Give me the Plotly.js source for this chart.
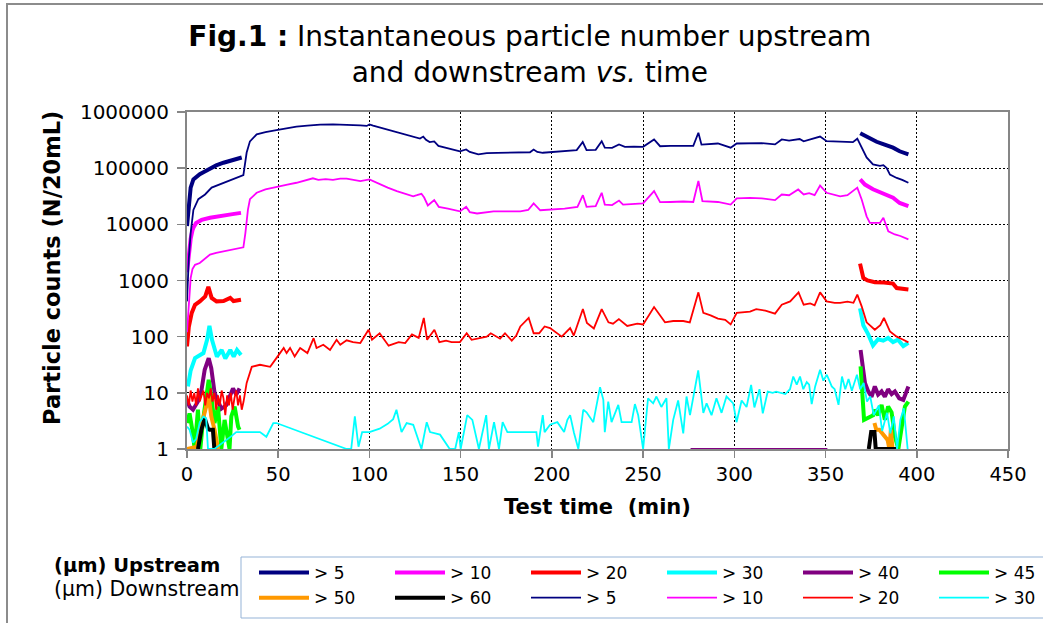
<!DOCTYPE html>
<html><head><meta charset="utf-8">
<script src="https://cdn.plot.ly/plotly-3.0.1.min.js"></script>
<style>html,body{margin:0;padding:0;background:#fff}#chart{width:1043px;height:623px}</style>
</head><body><div id="chart"></div>
<script>
// ---- axis ticks ----
const xTickVals = [0,50,100,150,200,250,300,350,400,450];
const yTickVals = [1,10,100,1000,10000,100000,1000000];
const yTickText = ['1','10','100','1000','10000','100000','1000000'];

// ---- legend labels ----
const upNames = ['> 5','> 10','> 20','> 30','> 40','> 45','> 50','> 60'];
const dnNames = ['> 5','> 10','> 20','> 30'];

// ---- Upstream (thick), two measurement periods separated by null ----
const upT5  = [0,1,2,3.5,5,7,10,13,16,20,25,30,null,369,372,375,378,382,385,387,390.6,393,395.4];
const up5   = [9300,22000,45000,63000,70000,78000,88000,100000,112000,125000,140000,155000,null,420000,370000,320000,295000,265000,250000,232000,200000,188000,176000];
const upT10 = [0,1,2,3,3.5,5,8,12.6,16,20,25,29.6,null,369,371.6,376,381.7,387,390.6,395.4];
const up10  = [1400,3000,5500,7800,8700,10600,12000,13100,13800,14400,15200,16000,null,63000,51000,42000,35500,29700,24000,21000];
const upT20 = [0,1,2.6,4.4,7,10,11.7,13.5,16.2,20,23.7,25.5,29.6,null,368.9,370.7,373,377,382,385,387,389,392,395.4];
const up20  = [67,150,265,370,425,520,770,490,425,430,490,430,455,null,2000,1110,1000,930,920,900,880,735,700,690];
const upT30 = [0.5,2,4.4,7,9,11,12.3,13.7,16.4,19,21,23.7,25.6,27.4,29.6,null,368.9,370.7,373.4,376,378.8,381.6,384.3,387,389.7,392.6,395.4];
const up30  = [13,25,41.5,47,51,88,156,88,44,58,41,58,44,58,47,null,320,160,110,70,90,85,95,80,88,68,78];
const upT40 = [0,1.4,3.3,6,7.9,9.7,11.9,13.3,15.1,17,18.8,21.5,23.3,25.2,27,28.8,null,369.2,370.3,371.6,373.4,375.2,377,378.8,380.7,382.5,384.3,386.2,388,390.4,392.6,395.4];
const up40  = [7.5,5.7,5,7,11,25.7,41.5,27.5,10,7,5.2,6,8.6,12,9.3,12,null,58,34,15,10.6,8.5,13,9.3,10.6,8.5,11.6,9.5,10.6,8,7.5,13];
const upT45 = [0,1.4,2.9,4.2,6,7.3,8.8,10.6,11.9,13.3,15.1,17,18.8,20.6,22.5,23.3,24.3,26.1,28,28.8,null,369.2,370.3,371.1,373.4,376.2,377,378.8,380.7,382.5,384.3,386.2,388,389.9,391.7,393.5,395.4];
const up45  = [2.9,4.3,2.2,1,5,1,3.3,8.6,17,8.6,2.9,5.7,1,3.3,1.5,1,3.8,5.7,2.5,2.2,null,29.5,7.5,3.3,3.6,4,5,4,6.1,3.3,5.7,4.5,1.66,1,2.4,5.7,7];
const upT50 = [0,5.4,8.2,10.6,11.9,13.3,15.1,17,18,null,376.8,377.8,379.5,381.3,383,384,385,385.8,386.7];
const up50  = [1,1.1,2.9,5.7,8.6,3.8,2.2,1,1,null,2.9,2.2,2.2,1.9,1.6,1.45,1,2.2,1];
const upT60 = [6,7.9,9.7,11.5,12.4,14.2,15,null,373.7,375,376.8,377.5,388.6];
const up60  = [1,2.2,3.5,2.3,2.2,2.2,1,null,1,2,2,1,1];

// ---- Downstream (thin), continuous ----
const dnT5 = [0,1,2,3.5,6.2,9.9,13.5,17,20,25,29,30.9,32.7,34.5,38.2,43,49,55,60,66,73,80,87.5,95,98.5,100,102,109.5,115,120.4,125,127.7,129.5,131,133,135.5,137.8,143,149.6,153,155,159.7,164.3,170,176,182.7,188,190,192,195,201,207,213.6,216.9,219,224,227.3,229,233,236.8,240,245,250,256,259.3,265,272,277.5,280.3,282,291,298,301.3,308.6,315,322.3,326,330,335.8,338,341,347,350.6,358,365,367.4,369.8,372.5,376,379.8,381.7,383.5,385.3,389,392,395.4];
const dn5  = [425,2500,7000,18000,28000,34000,45000,50000,55000,63000,72000,75000,190000,300000,400000,440000,475000,515000,550000,570000,595000,600000,595000,580000,565000,600000,570000,490000,440000,400000,355000,337000,365000,320000,292000,300000,250000,225000,200000,215000,195000,176000,185000,187000,187000,188000,192000,215000,195000,188000,193000,198000,210000,292000,210000,212000,302000,232000,230000,265000,240000,242000,240000,325000,246000,250000,252000,250000,427000,262000,275000,232000,275000,278000,280000,265000,325000,310000,330000,300000,320000,365000,302000,292000,290000,335000,232000,155000,117000,110000,113000,100000,77000,67000,62000,55000];
const dnT10 = [0,1,2,3,4.4,7,10,12.6,16,20,25,29,30.9,32,33.4,34.5,38.2,43,49,55,60,65,69,72,76,80,84,87.5,91,95,100,105.8,110,115,120,124,126,128.5,130,132,135.5,138,143,149.6,153,155,159,164,168,175,182.7,187,190,193.6,201,207,214,217,219,224,227.3,229,233,236.8,239,245,250,256,259.3,265,272,277.5,280.3,282.5,287,291,298,301.3,308.6,315,322.3,326,330,335,338,341,344,347,350.6,355,358,362,367.4,369.8,372.5,374.3,379.8,381.7,384.4,388,391,395.4];
const dn10  = [120,400,1100,1600,1900,2050,2500,2900,3100,3300,3500,3800,3900,7000,18300,28000,36500,42000,47000,51000,55000,60000,66000,62000,64000,62000,65000,65000,62000,59000,63000,51000,45000,39000,35000,31600,33000,35000,30000,21700,27000,20500,19000,17000,20500,16500,15600,16500,17000,17000,17000,18000,23600,17800,18500,19000,20500,33000,20500,21000,36500,22500,22000,26500,22500,23000,23600,39000,24800,25000,25500,25000,59000,26000,25500,25000,22500,29000,29500,29000,27000,34000,33000,41700,34000,36000,33000,49000,36500,33000,31600,33000,45000,27700,13900,10600,10600,13100,7500,6600,6200,5400];
const dnT20 = [0,1,2,3,4,5,6,7,8,9,10,11,12,13,14,15,16,17,18,19,20,21,22,23,24,25,26,27,28,29,30,31,32.7,35.5,40,45.6,49,53,54.6,56.5,59,62,66,69.4,71,74.7,78.4,82,84,87.5,91,95,99.5,101.4,105.6,110.5,116,119.6,123.3,127,129.8,131.6,135.6,138.3,142,145,149.6,153.3,156,158.8,164.3,166.5,171.6,174.3,178,180.5,182.7,187.3,190,193,196,199,205.4,210,212,217,219.2,223,227.3,231,233.5,236.7,241.3,246.8,250,256,259.3,262,266.5,272,275.6,280.3,283,287,291,295,298,301.3,308.6,312,317,322.3,326,330.6,335.2,338,341.6,344,347,350.6,355,358,362,365.3,367.4,369.8,372.5,377,380,382,385.3,389,392.6,395.4];
const dn20  = [9,6,11,7,10,6,12,7,9,11,6,10,8,12,7,10,5,9,6,11,8,4,9,6,10,5,8,11,6,9,5,7,15,29,31.6,29,41.5,63,51,63,44.5,63,51,94,63,72,58,88,72,86,80,77,133,88,115,69,80,77,110,95,215,88,133,80,85,80,80,115,88,92,100,115,92,115,85,105,152,215,115,115,152,142,100,142,105,310,175,140,310,180,170,205,155,170,165,337,235,180,190,190,180,615,265,240,210,200,165,265,280,310,290,257,370,425,615,370,390,360,615,425,400,400,420,400,560,347,180,133,160,215,124,100,88,79];
const dnT30 = [0,1.4,3.3,5,7,9,10.5,11.5,15,20,24,27,30,40,43.5,47.3,49,87.5,90,92,94,96,100,105.6,110,113,114.8,117.6,120.4,124,128.5,131.4,133.2,138.7,144,147,149,150,153.6,156.4,160,164,165.5,168.3,171,173,175.6,180,191.5,192.4,195,196,199,203,206.7,208.5,210,212.1,214.5,217.2,219,222.7,226.4,228.2,229,230.9,232.7,236.4,238.2,243.7,245.5,247.3,250,252.7,255.5,257.3,260,262.8,264.1,266.5,269.2,272,273.8,275.7,280.2,283,284.8,287.5,290.2,293,295.7,299.4,301.2,304,306.7,309.2,311,313.8,315.6,318.3,321,322.9,325.7,328,330.5,332.3,334.2,336,337.8,339.7,341,342.4,344.3,347,348.8,350.7,353.4,355,357.1,359,360.8,362.6,364.4,367.2,369,370.9,372.7,374.5,376.4,379.2,381,383.7,385.5,387.4,389.2,391,392.9,395];
const dn30  = [2.5,2.2,1.3,1.5,3,3.8,3.5,1,1,1.3,1.66,2,2,2,1.65,2.9,2.9,1,1,3.8,1.1,2,2,2.3,2.8,3.4,5,2,2.9,2.7,1,3,2,1.8,1,1,2,1,4,3.3,1,4,1,3,1,3,2,2,2,1.1,4,2,2.7,3,2,3.3,4,1.95,1,5,4.5,3,12.6,7.5,2,7,3,6.1,3,3,6.3,4,1,8,6.5,8.6,5.6,8,1,3.3,7.3,1.9,8.6,4,25,4.4,6.5,4,8,4.4,8.6,6.5,3,7.3,5.6,13.8,5.5,11.6,4.3,10.5,10,10.5,10,9.5,11.6,19.5,14,19.5,11.6,15.5,14,6.3,13,25.7,16.5,21,13,11.6,6.1,19.5,11.6,17.6,10.9,21,11.6,15,7,8.6,4,6,2.1,4.4,1.9,3.8,1,3.3,5.3,1];
const dnT40 = [276,351];
const dn40  = [1,1];

// ---- colours ----
const cNavy='#000080', cMag='#FF00FF', cRed='#FF0000', cCyan='#00FFFF', cPur='#800080', cGrn='#00FF00', cOrg='#FF9900', cBlk='#000000';

const FONT = 'DejaVu Sans, Liberation Sans, Arial, sans-serif';
function tr(name, x, y, color, width, show) {
  return {type:'scatter', mode:'lines', name:name, x:x, y:y,
    line:{color:color, width:width}, showlegend: show !== false, connectgaps:false, hoverinfo:'skip'};
}
const TH = 4, TN = 1.8;
const traces = [
  tr(upNames[0], upT5,  up5,  cNavy, TH),
  tr(upNames[1], upT10, up10, cMag,  TH),
  tr(upNames[2], upT20, up20, cRed,  TH),
  tr(upNames[3], upT30, up30, cCyan, TH),
  tr(upNames[4], upT40, up40, cPur,  TH),
  tr(upNames[5], upT45, up45, cGrn,  TH),
  tr(upNames[6], upT50, up50, cOrg,  TH),
  tr(upNames[7], upT60, up60, cBlk,  TH),
  tr(dnNames[0], dnT5,  dn5,  cNavy, TN),
  tr(dnNames[1], dnT10, dn10, cMag,  TN),
  tr(dnNames[2], dnT20, dn20, cRed,  TN),
  tr(dnNames[3], dnT30, dn30, cCyan, TN),
  tr('> 40', dnT40, dn40, cPur, TN, false)
];

// pixel helpers for paper coordinates (plot area 187..1008 x 112..449)
const L=187, R=1008, T=112, B=449;
const px = v => (v - L)/(R - L);
const py = v => (B - v)/(B - T);

const layout = {
  width:1043, height:623,
  margin:{l:L, r:1043-R, t:T, b:623-B, autoexpand:false},
  paper_bgcolor:'#fff', plot_bgcolor:'#fff',
  font:{family:FONT, color:'#000', size:19},
  title:{text:'<b>Fig.1 :</b> Instantaneous particle number upstream<br>and downstream <i>vs.</i> time',
    font:{family:FONT, size:28, color:'#000'}, x:0.508, xref:'container', xanchor:'center',
    y:1-46/623, yref:'container', yanchor:'top'},
  xaxis:{type:'linear', range:[0,450], tickmode:'array', tickvals:xTickVals,
    showgrid:true, gridcolor:'#000', griddash:'2px,2px', gridwidth:1,
    showline:true, linecolor:'#868686', linewidth:2, mirror:true,
    ticks:'outside', ticklen:7, tickcolor:'#868686', tickwidth:1.5,
    zeroline:false, tickfont:{size:19.5, family:FONT},
    title:{text:'<b>Test time  (min)</b>', font:{size:21, family:FONT}, standoff:14}},
  yaxis:{type:'log', range:[0,6], tickmode:'array', tickvals:yTickVals, ticktext:yTickText,
    showgrid:true, gridcolor:'#000', griddash:'2px,2px', gridwidth:1,
    showline:true, linecolor:'#868686', linewidth:2, mirror:true,
    ticks:'outside', ticklen:8, tickcolor:'#868686', tickwidth:1.5, ticklabelstandoff:4,
    zeroline:false, tickfont:{size:20, family:FONT}},
  showlegend:true,
  legend:{orientation:'h', x:px(254), xanchor:'left', y:py(555), yanchor:'top',
    bgcolor:'rgba(0,0,0,0)', borderwidth:0, font:{size:17, family:FONT},
    itemwidth:50, entrywidth:71, entrywidthmode:'pixels', traceorder:'normal', itemclick:false},
  shapes:[
    {type:'rect', xref:'paper', yref:'paper', x0:px(7), x1:px(1060), y0:py(640), y1:py(4),
      line:{color:'#8c8c8c', width:2}, fillcolor:'rgba(0,0,0,0)', layer:'below'},
    {type:'rect', xref:'paper', yref:'paper', x0:px(241), x1:px(1070), y0:py(618), y1:py(557),
      line:{color:'#95B3D7', width:1}, fillcolor:'rgba(0,0,0,0)', layer:'below'}
  ],
  annotations:[
    {xref:'paper', yref:'paper', x:px(52), y:py(268), xanchor:'center', yanchor:'middle', showarrow:false,
      textangle:-90, text:'<b>Particle counts (N/20mL)</b>', font:{size:22.5, family:FONT, color:'#000'}},
    {xref:'paper', yref:'paper', x:px(52), y:py(565), xanchor:'left', yanchor:'middle', showarrow:false,
      text:'<b>(µm) Upstream</b>', font:{size:19.5, family:FONT, color:'#000'}},
    {xref:'paper', yref:'paper', x:px(52), y:py(589), xanchor:'left', yanchor:'middle', showarrow:false,
      text:'(µm) Downstream', font:{size:20.5, family:FONT, color:'#000'}}
  ]
};
Plotly.newPlot('chart', traces, layout, {staticPlot:true, displayModeBar:false});
</script>
</body></html>
